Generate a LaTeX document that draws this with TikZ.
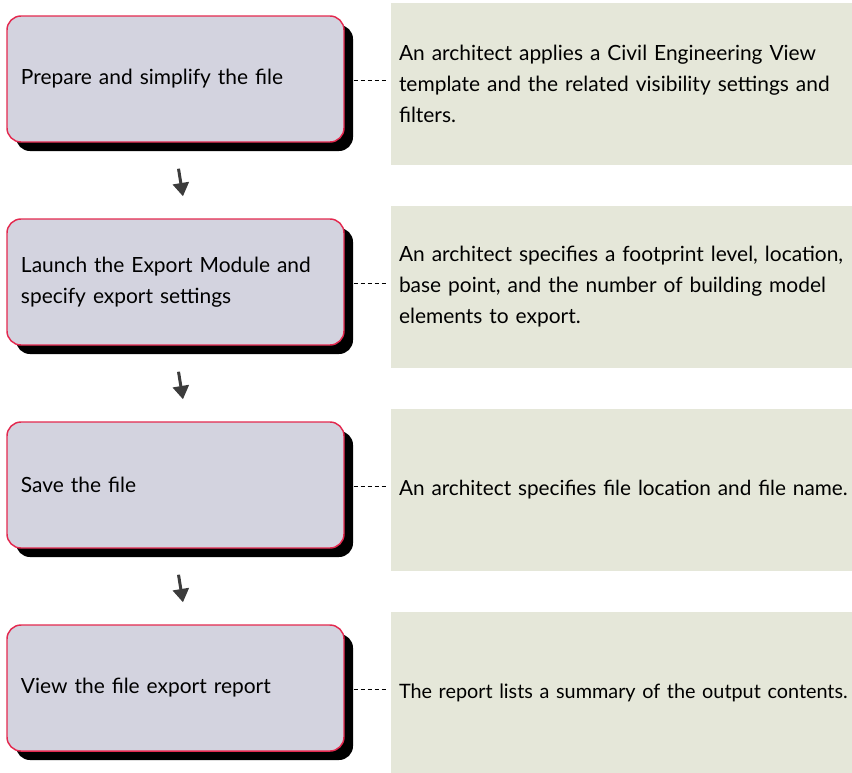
\documentclass[tikz,border=0pt]{standalone}
\usepackage{fontspec}
\usepackage{graphicx}
\setmainfont{Lato}
\usetikzlibrary{shadows,arrows.meta}
\definecolor{stepfill}{HTML}{D3D3DF}
\definecolor{stepline}{HTML}{E3294F}
\definecolor{notefill}{HTML}{E5E7D9}
\definecolor{arrowgray}{HTML}{3C3C3C}
\newcommand{\fullline}[1]{\resizebox{336.5pt}{!}{#1}}
\begin{document}
\begin{tikzpicture}[x=0.75pt,y=-0.75pt,
  stepbox/.style={draw=stepline, line width=1.1pt, fill=stepfill,
    rounded corners=10.5pt, minimum width=252.75pt, minimum height=94.5pt,
    inner xsep=10.5pt, text width=231.75pt, align=left,
    font=\fontsize{15.7pt}{23.25pt}\selectfont,
    drop shadow={shadow xshift=6.75pt, shadow yshift=-6.75pt, fill=black, opacity=1}},
  notebox/.style={fill=notefill, minimum width=345.75pt, minimum height=121.5pt,
    inner xsep=6pt, text width=333.75pt, align=left,
    font=\fontsize{15.7pt}{23.25pt}\selectfont},
  leader/.style={draw=black, line width=0.75pt, dash pattern=on 3pt off 2.25pt,
    shorten >=2.25pt},
  flow/.style={draw=arrowgray, line width=2.25pt,
    -{Triangle[width=12pt, length=10pt]}}
]
\useasboundingbox (0,0) rectangle (852,772);

\node[stepbox] (b1) at (175.5,79)  {Prepare and simplify the file};
\node[stepbox] (b2) at (175.5,282) {Launch the Export Module and\\specify export settings};
\node[stepbox] (b3) at (175.5,485) {Save the file};
\node[stepbox] (b4) at (175.5,688) {View the file export report};

\node[notebox] (p1) at (621.5,84)  {An architect applies a Civil Engineering View\\template and the related visibility settings and\\filters.};
\node[notebox] (p2) at (621.5,287) {An architect specifies a footprint level, location,\\base point, and the number of building model\\elements to export.};
\node[notebox] (p3) at (621.5,490) {\fullline{An architect specifies file location and file name.}};
\node[notebox] (p4) at (621.5,693) {\fullline{The report lists a summary of the output contents.}};

\foreach \i in {1,2,3,4}
  \draw[leader] ([xshift=6.75pt,yshift=-0.75pt]b\i.east) -- ([yshift=-0.75pt]b\i.east -| p\i.west);

\foreach \i/\j in {1/2,2/3,3/4}
  \draw[flow] ([xshift=2.25pt,yshift=-19.5pt]b\i.south) -- ([xshift=5.6pt,yshift=16.5pt]b\j.north);
\end{tikzpicture}
\end{document}
